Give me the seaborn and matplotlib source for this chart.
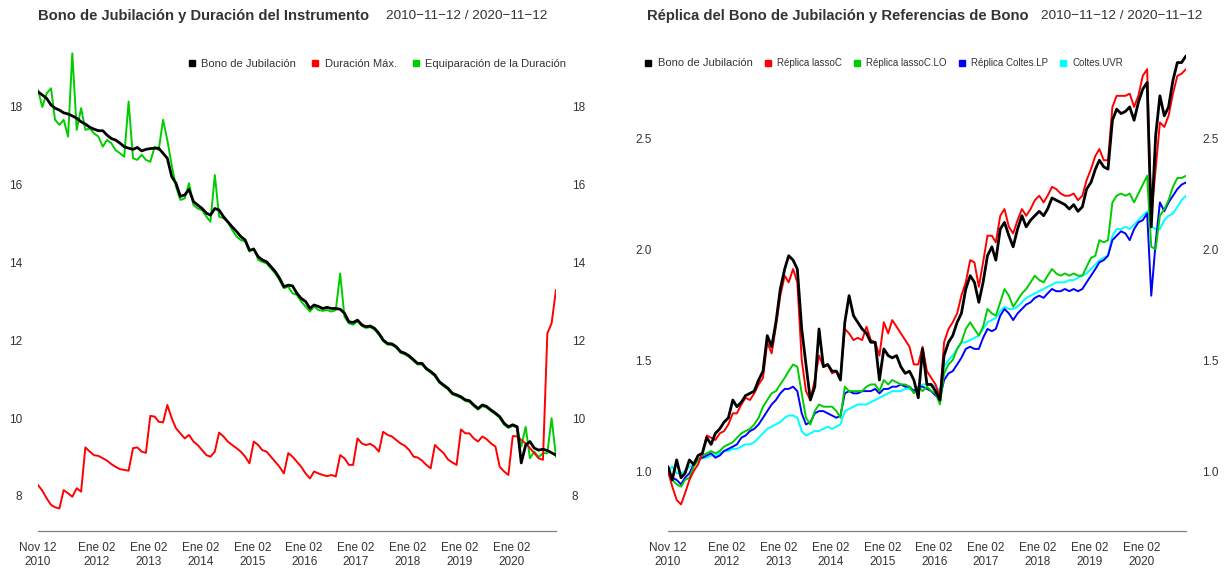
import matplotlib.pyplot as plt
import pandas as pd
import seaborn as sns
from matplotlib.lines import Line2D

sns.set_style("white")
plt.rcParams["font.family"] = ["Liberation Sans", "DejaVu Sans"]

# Monthly readings taken off the reference chart (Nov 2010 - Nov 2020).
dates = pd.date_range("2010-11-12", periods=121, freq=pd.DateOffset(months=1))

# Left panel: duration series
bono_duracion = [
    18.39, 18.31, 18.22, 18.05, 17.97, 17.92, 17.85, 17.82, 17.77, 17.71,
    17.62, 17.56, 17.48, 17.43, 17.39, 17.39, 17.28, 17.19, 17.15, 17.07,
    16.98, 16.94, 16.91, 16.96, 16.87, 16.91, 16.93, 16.94, 16.94, 16.81,
    16.68, 16.21, 16.04, 15.70, 15.74, 15.88, 15.57, 15.48, 15.39, 15.27,
    15.22, 15.39, 15.35, 15.18, 15.05, 14.92, 14.80, 14.67, 14.58, 14.32,
    14.34, 14.15, 14.07, 14.02, 13.90, 13.77, 13.60, 13.38, 13.42, 13.40,
    13.21, 13.08, 13.00, 12.82, 12.91, 12.87, 12.82, 12.85, 12.82, 12.82,
    12.80, 12.70, 12.48, 12.46, 12.52, 12.40, 12.35, 12.37, 12.31, 12.18,
    12.01, 11.92, 11.91, 11.84, 11.71, 11.67, 11.60, 11.50, 11.41, 11.41,
    11.28, 11.20, 11.11, 10.94, 10.85, 10.77, 10.64, 10.60, 10.55, 10.47,
    10.45, 10.34, 10.25, 10.34, 10.30, 10.21, 10.13, 10.04, 9.87, 9.78,
    9.83, 9.78, 8.85, 9.31, 9.40, 9.23, 9.18, 9.20, 9.17, 9.11, 9.05,
]
duracion_max = [
    8.28, 8.14, 7.94, 7.77, 7.71, 7.68, 8.15, 8.07, 7.98, 8.20,
    8.11, 9.25, 9.14, 9.05, 9.03, 8.97, 8.91, 8.82, 8.75, 8.69,
    8.67, 8.65, 9.23, 9.25, 9.14, 9.11, 10.06, 10.04, 9.91, 9.89,
    10.34, 10.00, 9.74, 9.61, 9.48, 9.57, 9.40, 9.31, 9.18, 9.05,
    9.01, 9.14, 9.63, 9.53, 9.40, 9.31, 9.23, 9.14, 9.01, 8.84,
    9.40, 9.31, 9.18, 9.14, 9.01, 8.88, 8.75, 8.58, 9.10, 9.01,
    8.88, 8.75, 8.58, 8.45, 8.63, 8.58, 8.54, 8.51, 8.54, 8.50,
    9.05, 8.97, 8.80, 8.80, 9.48, 9.35, 9.31, 9.34, 9.27, 9.14,
    9.65, 9.57, 9.53, 9.44, 9.35, 9.29, 9.18, 9.01, 8.99, 8.91,
    8.80, 8.71, 9.31, 9.20, 9.10, 8.94, 8.86, 8.80, 9.71, 9.61,
    9.61, 9.48, 9.40, 9.53, 9.46, 9.35, 9.27, 8.75, 8.63, 8.54,
    9.54, 9.53, 9.44, 9.35, 9.23, 9.10, 8.97, 8.93, 12.18, 12.44, 13.30,
]
equiparacion = [
    18.44, 18.00, 18.35, 18.48, 17.67, 17.54, 17.67, 17.24, 19.38, 17.41,
    17.97, 17.41, 17.45, 17.32, 17.24, 16.98, 17.15, 17.07, 16.89, 16.81,
    16.72, 18.14, 16.68, 16.64, 16.77, 16.64, 16.59, 16.98, 16.89, 17.67,
    17.15, 16.50, 15.95, 15.61, 15.65, 16.04, 15.48, 15.39, 15.35, 15.18,
    15.05, 16.25, 15.18, 15.14, 15.05, 14.84, 14.67, 14.58, 14.54, 14.28,
    14.37, 14.07, 14.02, 13.98, 13.85, 13.72, 13.55, 13.34, 13.38, 13.21,
    13.17, 13.00, 12.87, 12.74, 12.87, 12.78, 12.76, 12.78, 12.74, 12.78,
    13.72, 12.61, 12.44, 12.40, 12.49, 12.37, 12.32, 12.34, 12.28, 12.15,
    11.98, 11.89, 11.88, 11.81, 11.68, 11.64, 11.57, 11.47, 11.38, 11.38,
    11.25, 11.17, 11.08, 10.91, 10.82, 10.74, 10.61, 10.57, 10.52, 10.44,
    10.42, 10.31, 10.22, 10.31, 10.27, 10.18, 10.10, 10.01, 9.83, 9.75,
    9.80, 9.76, 9.27, 9.78, 8.97, 9.14, 9.00, 9.10, 9.10, 10.00, 9.00,
]

# Right panel: value indices
bono_valor = [
    1.02, 0.96, 1.05, 0.97, 0.99, 1.05, 1.03, 1.07, 1.08, 1.15,
    1.12, 1.17, 1.19, 1.22, 1.24, 1.32, 1.29, 1.31, 1.34, 1.35,
    1.36, 1.41, 1.45, 1.61, 1.56, 1.67, 1.82, 1.91, 1.97, 1.95,
    1.91, 1.64, 1.48, 1.32, 1.38, 1.64, 1.47, 1.48, 1.45, 1.45,
    1.41, 1.67, 1.79, 1.70, 1.67, 1.64, 1.62, 1.58, 1.58, 1.41,
    1.55, 1.52, 1.51, 1.52, 1.47, 1.44, 1.45, 1.41, 1.33, 1.55,
    1.39, 1.39, 1.36, 1.32, 1.52, 1.58, 1.61, 1.67, 1.71, 1.82,
    1.88, 1.85, 1.76, 1.85, 1.97, 2.01, 1.95, 2.09, 2.12, 2.06,
    2.01, 2.09, 2.15, 2.10, 2.13, 2.15, 2.17, 2.15, 2.18, 2.23,
    2.22, 2.21, 2.20, 2.18, 2.20, 2.17, 2.19, 2.27, 2.30, 2.36,
    2.40, 2.37, 2.36, 2.58, 2.63, 2.61, 2.62, 2.64, 2.58, 2.66,
    2.72, 2.75, 2.10, 2.51, 2.69, 2.60, 2.64, 2.76, 2.84, 2.84, 2.87,
]
replica_lassoc = [
    1.00, 0.93, 0.87, 0.85, 0.90, 0.96, 1.00, 1.03, 1.08, 1.16,
    1.15, 1.14, 1.17, 1.18, 1.21, 1.26, 1.26, 1.30, 1.33, 1.32,
    1.35, 1.39, 1.42, 1.58, 1.53, 1.65, 1.79, 1.88, 1.85, 1.91,
    1.85, 1.50, 1.36, 1.32, 1.41, 1.52, 1.47, 1.48, 1.44, 1.45,
    1.42, 1.64, 1.62, 1.59, 1.60, 1.59, 1.65, 1.59, 1.58, 1.52,
    1.67, 1.62, 1.68, 1.65, 1.62, 1.59, 1.56, 1.48, 1.48, 1.56,
    1.45, 1.42, 1.39, 1.33, 1.58, 1.64, 1.67, 1.71, 1.79, 1.85,
    1.95, 1.94, 1.83, 1.94, 2.06, 2.06, 2.03, 2.15, 2.18, 2.10,
    2.07, 2.13, 2.18, 2.15, 2.18, 2.22, 2.24, 2.21, 2.24, 2.28,
    2.27, 2.25, 2.24, 2.24, 2.25, 2.22, 2.24, 2.31, 2.36, 2.42,
    2.45, 2.40, 2.40, 2.64, 2.69, 2.69, 2.69, 2.70, 2.64, 2.69,
    2.78, 2.81, 2.15, 2.36, 2.57, 2.55, 2.60, 2.70, 2.78, 2.79, 2.81,
]
replica_lassoc_lo = [
    0.99, 0.96, 0.94, 0.93, 0.96, 0.97, 1.02, 1.05, 1.07, 1.08,
    1.09, 1.08, 1.09, 1.11, 1.12, 1.13, 1.15, 1.17, 1.18, 1.19,
    1.21, 1.24, 1.29, 1.32, 1.35, 1.36, 1.39, 1.42, 1.45, 1.48,
    1.47, 1.35, 1.24, 1.21, 1.27, 1.30, 1.29, 1.29, 1.29, 1.27,
    1.24, 1.38, 1.36, 1.36, 1.36, 1.36, 1.38, 1.39, 1.39, 1.36,
    1.41, 1.39, 1.41, 1.40, 1.39, 1.39, 1.38, 1.35, 1.38, 1.36,
    1.38, 1.36, 1.35, 1.30, 1.44, 1.48, 1.50, 1.55, 1.58, 1.64,
    1.67, 1.64, 1.61, 1.65, 1.73, 1.71, 1.70, 1.76, 1.82, 1.79,
    1.74, 1.77, 1.80, 1.82, 1.85, 1.88, 1.86, 1.85, 1.88, 1.91,
    1.89, 1.88, 1.89, 1.88, 1.89, 1.88, 1.88, 1.92, 1.96, 1.97,
    2.04, 2.03, 2.04, 2.21, 2.24, 2.25, 2.24, 2.25, 2.21, 2.25,
    2.29, 2.33, 2.01, 2.00, 2.15, 2.18, 2.22, 2.28, 2.32, 2.32, 2.33,
]
replica_coltes_lp = [
    1.00, 0.97, 0.96, 0.94, 0.97, 0.99, 1.03, 1.05, 1.06, 1.07,
    1.08, 1.06, 1.07, 1.09, 1.10, 1.11, 1.12, 1.15, 1.16, 1.18,
    1.19, 1.21, 1.24, 1.27, 1.30, 1.32, 1.35, 1.37, 1.37, 1.38,
    1.36, 1.26, 1.21, 1.22, 1.26, 1.27, 1.27, 1.26, 1.25, 1.24,
    1.25, 1.35, 1.36, 1.35, 1.35, 1.36, 1.36, 1.36, 1.37, 1.35,
    1.37, 1.37, 1.38, 1.38, 1.39, 1.38, 1.38, 1.36, 1.38, 1.38,
    1.37, 1.36, 1.34, 1.33, 1.41, 1.44, 1.45, 1.48, 1.51, 1.55,
    1.56, 1.55, 1.55, 1.60, 1.64, 1.63, 1.64, 1.70, 1.73, 1.71,
    1.68, 1.71, 1.73, 1.75, 1.76, 1.78, 1.79, 1.78, 1.80, 1.82,
    1.81, 1.81, 1.82, 1.81, 1.82, 1.81, 1.82, 1.85, 1.88, 1.91,
    1.94, 1.95, 1.97, 2.04, 2.06, 2.08, 2.07, 2.04, 2.09, 2.12,
    2.13, 2.16, 1.79, 2.03, 2.21, 2.17, 2.21, 2.24, 2.27, 2.29, 2.30,
]
coltes_uvr = [
    1.00, 1.02, 0.99, 0.99, 1.00, 1.02, 1.03, 1.05, 1.06, 1.06,
    1.07, 1.07, 1.08, 1.09, 1.09, 1.10, 1.10, 1.11, 1.12, 1.12,
    1.13, 1.15, 1.17, 1.19, 1.20, 1.21, 1.22, 1.24, 1.25, 1.25,
    1.24, 1.18, 1.16, 1.17, 1.18, 1.18, 1.19, 1.20, 1.19, 1.20,
    1.21, 1.27, 1.28, 1.29, 1.30, 1.30, 1.30, 1.31, 1.32, 1.33,
    1.34, 1.35, 1.36, 1.36, 1.36, 1.37, 1.37, 1.36, 1.38, 1.39,
    1.39, 1.39, 1.38, 1.36, 1.47, 1.50, 1.52, 1.55, 1.58, 1.58,
    1.59, 1.60, 1.61, 1.64, 1.67, 1.68, 1.69, 1.72, 1.74, 1.73,
    1.73, 1.74, 1.76, 1.78, 1.79, 1.80, 1.81, 1.82, 1.83, 1.84,
    1.85, 1.85, 1.85, 1.86, 1.86, 1.87, 1.88, 1.89, 1.91, 1.93,
    1.95, 1.96, 1.97, 2.06, 2.09, 2.09, 2.10, 2.09, 2.11, 2.13,
    2.15, 2.17, 2.10, 2.09, 2.09, 2.13, 2.15, 2.16, 2.19, 2.22, 2.24,
]

# x-axis ticks (first observation of each year)
tick_dates = pd.to_datetime(
    ["2010-11-12", "2011-01-03"] + [f"{y}-01-02" for y in range(2012, 2021)] + ["2020-11-12"]
)
tick_labels = ["Nov 12\n2010", ""] + [f"Ene 02\n{y}" for y in range(2012, 2021)] + [""]

left_series = {
    "Bono de Jubilación": bono_duracion,
    "Duración Máx.": duracion_max,
    "Equiparación de la Duración": equiparacion,
}
right_series = {
    "Bono de Jubilación": bono_valor,
    "Réplica lassoC": replica_lassoc,
    "Réplica lassoC.LO": replica_lassoc_lo,
    "Réplica Coltes.LP": replica_coltes_lp,
    "Coltes.UVR": coltes_uvr,
}
left_colors = ["#000000", "#ff0000", "#00cd00"]
right_colors = ["#000000", "#ff0000", "#00cd00", "#0000ff", "#00ffff"]

TXT = "#333333"
W, H = 1225, 571


def box(x0, x1, y0, y1):
    # pixel box -> figure fraction
    return [x0 / W, 1 - y1 / H, (x1 - x0) / W, (y1 - y0) / H]


def draw_panel(ax, series, colors):
    df = pd.DataFrame(series, index=dates)
    names = list(series)
    # draw back to front so the first series ends on top
    for name, color in reversed(list(zip(names, colors))):
        sns.lineplot(
            x=df.index,
            y=df[name],
            color=color,
            linewidth=2.0 if color == "#000000" else 1.4,
            ax=ax,
        )
    ax.set(xlabel="", ylabel="", xlim=(dates[0], dates[-1]))
    ax.set_xticks(tick_dates)
    ax.set_xticklabels(tick_labels)
    for side in ["top", "left", "right"]:
        ax.spines[side].set_visible(False)
    ax.spines["bottom"].set_color("#808080")
    ax.spines["bottom"].set_linewidth(0.9)
    ax.tick_params(
        axis="x", length=4.2, width=0.9, color="#808080", labelsize=8.5,
        labelcolor=TXT, pad=4,
    )
    ax.tick_params(
        axis="y", length=0, labelsize=8.5, labelcolor=TXT,
        labelleft=True, labelright=True, pad=11.5,
    )
    for lab in ax.get_xticklabels():
        lab.set_linespacing(1.15)


fig = plt.figure(figsize=(W / 100, H / 100), dpi=100)
ax1 = fig.add_axes(box(38, 556, 35, 531))
ax2 = fig.add_axes(box(668, 1186, 35, 531))

draw_panel(ax1, left_series, left_colors)
ax1.set(ylim=(7.10, 19.85), yticks=[8, 10, 12, 14, 16, 18])

draw_panel(ax2, right_series, right_colors)
ax2.set(ylim=(0.73, 2.964), yticks=[1.0, 1.5, 2.0, 2.5])
ax2.set_yticklabels(["1.0", "1.5", "2.0", "2.5"])


def square_handles(colors):
    return [
        Line2D([], [], marker="s", color=c, linestyle="none", markersize=4.2)
        for c in colors
    ]


leg1 = ax1.legend(
    square_handles(left_colors), list(left_series), loc="upper right",
    bbox_to_anchor=(566 / W, 1 - 59 / H), bbox_transform=fig.transFigure,
    ncol=3, frameon=False, fontsize=8, handlelength=0.5, handletextpad=0.6,
    columnspacing=1.45, borderpad=0, borderaxespad=0,
)
for t in leg1.get_texts():
    t.set_color(TXT)

leg2 = ax2.legend(
    square_handles(right_colors), list(right_series), loc="upper left",
    bbox_to_anchor=(646 / W, 1 - 58 / H), bbox_transform=fig.transFigure,
    ncol=5, frameon=False, fontsize=7, handlelength=0.5, handletextpad=0.7,
    columnspacing=1.3, borderpad=0, borderaxespad=0,
)
for i, t in enumerate(leg2.get_texts()):
    t.set_color(TXT)
    if i == 0:
        t.set_fontsize(8)

# Titles with date range
fig.text(38 / W, 1 - 16 / H, "Bono de Jubilación y Duración del Instrumento",
         ha="left", va="center", fontsize=10.6, fontweight="bold", color=TXT)
fig.text(547 / W, 1 - 16 / H, "2010−11−12 / 2020−11−12",
         ha="right", va="center", fontsize=9.7, color=TXT)
fig.text(647 / W, 1 - 16 / H, "Réplica del Bono de Jubilación y Referencias de Bono",
         ha="left", va="center", fontsize=10.6, fontweight="bold", color=TXT)
fig.text(1202 / W, 1 - 16 / H, "2010−11−12 / 2020−11−12",
         ha="right", va="center", fontsize=9.7, color=TXT)

fig.savefig("out.png", dpi=100)
